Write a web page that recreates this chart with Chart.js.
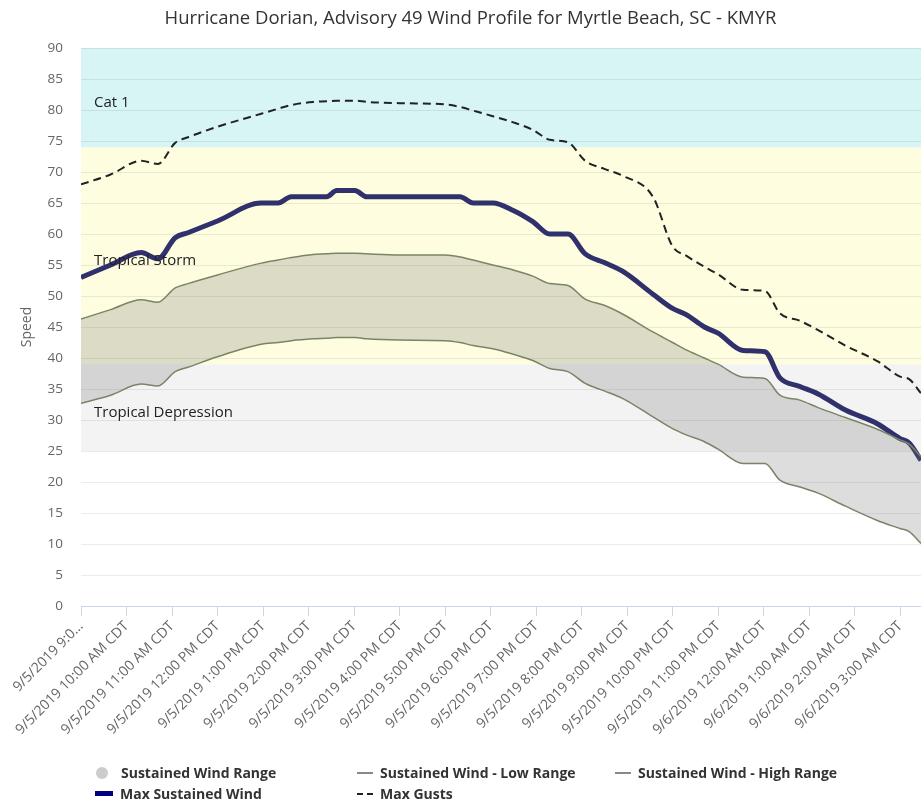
<!DOCTYPE html>
<html>
<head>
<meta charset="utf-8">
<title>Hurricane Dorian wind profile</title>
<script src="https://cdn.jsdelivr.net/npm/chart.js@4.4.1/dist/chart.umd.min.js"></script>
<style>
    body { margin: 0; background: #fff; font-family: "Open Sans", sans-serif; }
    #wrap { position: relative; width: 921px; height: 801px; overflow: hidden; }
    #legend {
        position: absolute; left: 95px; top: 762px;
        display: grid; grid-template-columns: 262px 258px 280px; grid-auto-rows: 21px;
        font-weight: bold; font-size: 14px; color: #333;
    }
    .item { display: flex; align-items: center; white-space: nowrap; }
    .sym { display: inline-block; width: 16px; margin-right: 7px; }
    .circle { width: 12px; height: 12px; border-radius: 50%; background: #ccc; margin-right: 13px; margin-left: 1px; }
    .rangeLine { border-top: 2px solid #888; }
    .navyLine { width: 18px; border-top: 5px solid #000080; margin-right: 7px; }
    .dashLine { border-top: 2px dashed #222; }
</style>
</head>
<body>
<div id="wrap">
    <!-- canvas is a little wider than the page; the right strip is cropped like the original -->
    <canvas id="windChart" width="941" height="801"></canvas>
    <div id="legend">
        <div class="item"><span class="sym circle"></span>Sustained Wind Range</div>
        <div class="item"><span class="sym rangeLine"></span>Sustained Wind - Low Range</div>
        <div class="item"><span class="sym rangeLine"></span>Sustained Wind - High Range</div>
        <div class="item"><span class="sym navyLine"></span>Max Sustained Wind</div>
        <div class="item"><span class="sym dashLine"></span>Max Gusts</div>
    </div>
</div>
<script>
// hourly tick labels (x value = hours after 9 AM)
const tickLabels = [
    '9/5/2019 9:00 AM CDT', '9/5/2019 10:00 AM CDT', '9/5/2019 11:00 AM CDT',
    '9/5/2019 12:00 PM CDT', '9/5/2019 1:00 PM CDT', '9/5/2019 2:00 PM CDT',
    '9/5/2019 3:00 PM CDT', '9/5/2019 4:00 PM CDT', '9/5/2019 5:00 PM CDT',
    '9/5/2019 6:00 PM CDT', '9/5/2019 7:00 PM CDT', '9/5/2019 8:00 PM CDT',
    '9/5/2019 9:00 PM CDT', '9/5/2019 10:00 PM CDT', '9/5/2019 11:00 PM CDT',
    '9/6/2019 12:00 AM CDT', '9/6/2019 1:00 AM CDT', '9/6/2019 2:00 AM CDT',
    '9/6/2019 3:00 AM CDT'
];

const hours = [0, 0.65, 1.32, 1.69, 2.07, 2.35, 3.0, 3.96, 4.33, 4.62, 5.1, 5.4, 5.62, 6.02,
    6.28, 7.0, 8.0, 8.33, 8.62, 9.05, 9.5, 9.93, 10.3, 10.7, 11.08, 11.5, 11.9, 12.57, 13.0,
    13.3, 13.7, 14.0, 14.55, 15.03, 15.36, 15.8, 16.2, 16.8, 17.5, 18.0, 18.2, 18.46];

const lowRange = [32.7, 34, 35.8, 35.5, 37.8, 38.5, 40.2, 42.2, 42.5, 42.8, 43.1, 43.2, 43.3, 43.3,
    43.1, 42.9, 42.8, 42.5, 42, 41.5, 40.6, 39.6, 38.3, 37.8, 35.9, 34.7, 33.5, 30.5, 28.6,
    27.6, 26.5, 25.3, 23, 23, 20.3, 19.2, 18.2, 16.1, 13.8, 12.5, 12, 10.1];

const highRange = [46.3, 47.8, 49.4, 49, 51.3, 52, 53.4, 55.3, 55.8, 56.2, 56.7, 56.8, 56.9, 56.9,
    56.8, 56.6, 56.6, 56.3, 55.8, 55, 54.2, 53.2, 52, 51.7, 49.5, 48.5, 47.1, 44.2, 42.5,
    41.3, 40, 39, 36.9, 36.7, 34, 33.2, 32, 30.4, 28.5, 26.8, 26.1, 24.1];

const maxSustained = [53, 55, 57, 56, 59.4, 60.2, 62.1, 65, 65, 66, 66, 66, 67, 67,
    66, 66, 66, 66, 65, 65, 63.8, 62, 60, 60, 56.8, 55.4, 54, 50.3, 48,
    47, 45, 44, 41.2, 41, 36.8, 35.4, 34.2, 31.6, 29.4, 27, 26.3, 23.5];

const maxGusts = [68, 69.6, 71.8, 71.3, 74.7, 75.6, 77.3, 79.4, 80.2, 80.8, 81.3, 81.4, 81.5, 81.5,
    81.3, 81.1, 80.9, 80.5, 79.9, 79, 78, 76.8, 75.2, 74.8, 71.8, 70.5, 69.4, 66, 58,
    56.5, 54.7, 53.5, 51, 50.8, 47.2, 46, 44.5, 42, 39.5, 37, 36.6, 34.3];

// storm category bands
const bandNames = ['Tropical Depression', 'Tropical Storm', 'Cat 1'];
const bandFrom = [25, 39, 74];
const bandTo = [39, 74, 90];
const bandColors = ['#f3f3f3', '#fefde0', '#d6f5f4'];

const pts = arr => hours.map((h, i) => ({ x: h, y: arr[i] }));

const bandPlugin = {
    id: 'bands',
    beforeDraw(chart) {
        const { ctx, chartArea: a, scales: { y } } = chart;
        ctx.save();
        bandNames.forEach((n, i) => {
            const top = y.getPixelForValue(bandTo[i]);
            const bot = y.getPixelForValue(bandFrom[i]);
            ctx.fillStyle = bandColors[i];
            ctx.fillRect(a.left, top, a.right - a.left, bot - top);
        });
        ctx.restore();
    },
    afterDatasetsDraw(chart) {
        const { ctx, chartArea: a, scales: { y } } = chart;
        ctx.save();
        ctx.font = '15px "Open Sans", sans-serif';
        ctx.fillStyle = '#222';
        ctx.textBaseline = 'middle';
        bandNames.forEach((n, i) => {
            ctx.fillText(n, a.left + 13, y.getPixelForValue((bandFrom[i] + bandTo[i]) / 2) + 5);
        });
        ctx.restore();
    }
};

Chart.defaults.font.family = '"Open Sans", sans-serif';

const rangeLine = {
    borderColor: '#7b8466',
    borderWidth: 1.5,
    pointRadius: 0,
    cubicInterpolationMode: 'monotone'
};

const ctx = document.getElementById('windChart').getContext('2d');
const windChart = new Chart(ctx, {
    type: 'line',
    data: {
        datasets: [
            { label: 'Sustained Wind - Low Range', data: pts(lowRange), fill: false, ...rangeLine },
            {
                label: 'Sustained Wind - High Range', data: pts(highRange), ...rangeLine,
                fill: '-1', backgroundColor: 'rgba(120,120,120,0.25)'
            },
            {
                label: 'Max Sustained Wind', data: pts(maxSustained), borderColor: '#30306c',
                borderWidth: 5, pointRadius: 0, cubicInterpolationMode: 'monotone', fill: false
            },
            {
                label: 'Max Gusts', data: pts(maxGusts), borderColor: '#222', borderWidth: 2,
                borderDash: [8, 5], pointRadius: 0, cubicInterpolationMode: 'monotone', fill: false
            }
        ]
    },
    options: {
        responsive: false,
        animation: false,
        layout: { padding: 0 },
        plugins: {
            legend: { display: false },
            tooltip: { enabled: false },
            title: {
                display: true,
                text: 'Hurricane Dorian, Advisory 49 Wind Profile for Myrtle Beach, SC - KMYR',
                color: '#333',
                font: { size: 18.5, weight: 'normal' },
                padding: { top: 8, bottom: 17.8 }
            }
        },
        scales: {
            x: {
                type: 'linear',
                min: 0,
                max: 18.9,
                afterFit(s) { s.height = 195; },
                afterBuildTicks(s) { s.ticks = tickLabels.map((l, i) => ({ value: i })); },
                grid: { drawOnChartArea: false, drawTicks: true, tickLength: 10, color: '#ccd6eb' },
                border: { color: '#ccd6eb' },
                ticks: {
                    autoSkip: false,
                    minRotation: 45,
                    maxRotation: 45,
                    color: '#666',
                    padding: 2,
                    font: { size: 14 },
                    callback: v => v === 0 ? tickLabels[0].slice(0, 12) + '\u2026' : tickLabels[v]
                }
            },
            y: {
                min: 0,
                max: 90,
                afterFit(s) { s.width = 81; },
                grid: { color: 'rgba(0,0,0,0.08)', drawTicks: false },
                border: { display: false },
                ticks: { stepSize: 5, color: '#666', padding: 18, font: { size: 13.5 } },
                title: {
                    display: true, text: 'Speed', color: '#666',
                    font: { size: 14 }, padding: { top: 19, bottom: 0 }
                }
            }
        }
    },
    plugins: [bandPlugin]
});
</script>
</body>
</html>
